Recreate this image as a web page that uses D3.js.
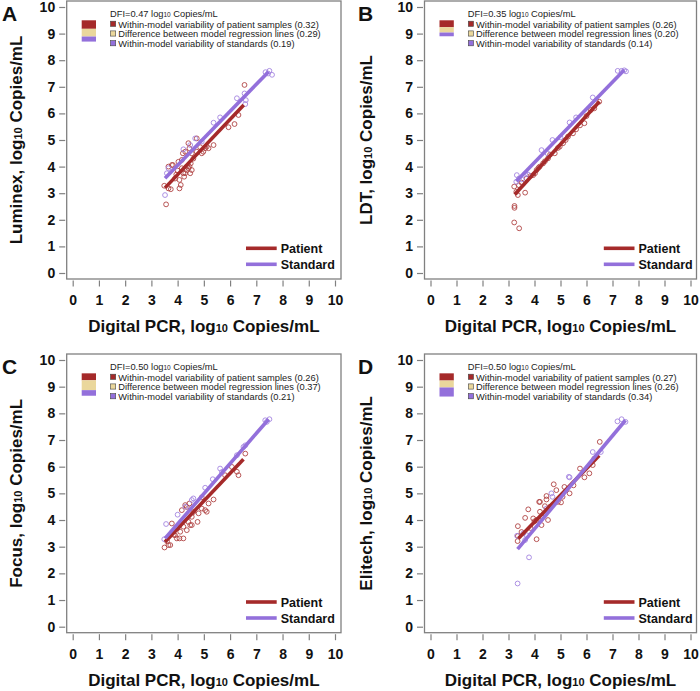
<!DOCTYPE html>
<html><head><meta charset="utf-8">
<script src="https://cdn.jsdelivr.net/npm/d3@7"></script>
<style>
body{margin:0;background:#fff}
svg{display:block}
text{font-family:"Liberation Sans",Arial,Helvetica,sans-serif}
</style>
</head><body>
<svg id="chart" width="700" height="691"></svg>
<script>
// ---------- data ----------
const panelLetters = ["A", "B", "C", "D"];
const assayNames = ["Luminex", "LDT", "Focus", "Elitech"];
const axisTicks = [0, 1, 2, 3, 4, 5, 6, 7, 8, 9, 10];
const dfiValues = ["0.47", "0.35", "0.50", "0.50"];
const patientVariability = [0.32, 0.26, 0.26, 0.27];
const regressionDifference = [0.29, 0.20, 0.37, 0.26];
const standardVariability = [0.19, 0.14, 0.21, 0.34];

// regression line endpoints [x1, y1, x2, y2]
const patientLines = [[3.52, 3.2, 6.52, 6.32], [3.24, 2.95, 6.5, 6.45], [3.52, 3.18, 6.51, 6.28], [3.38, 3.31, 6.49, 6.42]];
const standardLines = [[3.52, 3.56, 7.47, 7.57], [3.3, 3.45, 7.45, 7.63], [3.52, 3.31, 7.47, 7.78], [3.35, 2.91, 7.5, 7.74]];

const luminexPatient = [[3.56,2.58],[3.49,3.28],[3.65,3.18],[3.74,3.15],[3.65,4.0],[3.82,4.06],[4.03,4.18],[4.07,3.5],[4.07,3.18],[4.12,3.31],[4.16,3.94],[4.2,4.5],[4.29,3.75],[4.35,4.0],[4.41,4.88],[4.45,4.69],[4.48,3.75],[4.54,3.87],[4.5,4.12],[4.41,3.94],[4.73,5.06],[4.92,4.5],[4.98,4.56],[5.05,4.69],[5.11,4.75],[5.37,4.81],[6.17,5.6],[5.94,5.48],[6.55,7.07],[6.32,5.94],[4.16,4.25],[3.78,4.06],[4.22,3.75],[4.35,3.87],[4.86,4.73],[4.73,4.56],[4.54,4.5],[4.29,4.56],[5.18,4.69],[3.95,3.7],[4.25,3.62],[4.6,4.3],[4.0,3.85],[3.9,3.55],[4.45,4.0]];
const luminexStandard = [[3.52,2.93],[3.59,3.75],[3.65,3.94],[4.22,4.65],[4.48,4.81],[4.67,5.06],[4.92,4.94],[5.37,5.65],[5.62,5.85],[6.26,6.57],[6.55,6.75],[6.6,6.5],[6.58,6.35],[7.35,7.55],[7.5,7.6],[7.45,7.5],[7.6,7.45]];

const ldtPatient = [[3.22,3.25],[3.23,2.52],[3.23,2.45],[3.22,1.9],[3.41,1.68],[3.36,2.93],[3.64,3.02],[5.92,5.63],[3.95,3.68],[4.02,3.75],[6.49,6.44],[6.3,6.19],[6.17,6.13],[5.48,5.25],[5.29,5.13],[5.1,4.88],[4.97,4.75],[4.78,4.5],[4.52,4.31],[4.33,4.12],[4.08,3.87],[3.4,3.3],[3.5,3.4],[3.7,3.55],[3.85,3.65],[4.2,4.0],[4.4,4.2],[4.6,4.45],[4.9,4.7],[5.2,5.0],[5.6,5.4],[5.75,5.55],[6.0,5.9],[4.15,3.95],[3.3,3.05]];
const ldtStandard = [[7.2,7.6],[7.35,7.6],[7.45,7.62],[7.52,7.58],[6.24,6.6],[5.35,5.66],[4.69,5.0],[4.27,4.62],[3.32,3.68],[3.3,3.43],[3.51,3.52],[3.64,3.72],[3.4,3.55],[3.75,3.7],[4.5,4.5],[5.0,5.1],[5.6,5.85]];

const focusPatient = [[3.5,2.97],[3.65,3.06],[3.72,3.06],[3.78,3.87],[3.9,3.43],[3.97,3.31],[4.07,3.31],[4.22,3.31],[4.1,3.56],[4.16,4.37],[4.22,3.75],[4.35,3.62],[4.41,3.93],[4.35,4.49],[4.45,4.62],[4.54,4.12],[4.54,3.81],[4.76,3.93],[4.8,4.25],[4.92,4.43],[5.05,4.37],[5.11,4.31],[5.18,4.62],[5.37,4.77],[4.92,4.85],[5.81,5.68],[6.32,5.68],[6.26,5.81],[6.07,5.99],[6.58,6.49],[4.29,4.56],[4.0,3.7],[3.85,3.45],[4.6,4.3],[4.48,3.81],[3.6,3.2]];
const focusStandard = [[7.34,7.74],[7.5,7.78],[7.4,7.68],[6.58,6.8],[6.51,6.74],[6.26,6.43],[5.62,5.93],[5.69,5.8],[5.34,5.53],[5.05,5.21],[4.6,4.81],[4.54,4.75],[3.56,3.85],[3.49,3.28],[4.0,4.2],[4.3,4.5]];

const elitechPatient = [[3.36,3.77],[3.36,3.4],[3.64,4.08],[3.76,4.4],[3.95,4.06],[4.08,3.28],[4.21,4.31],[4.21,4.68],[4.27,3.81],[4.46,4.9],[4.46,4.77],[4.4,4.52],[4.52,4.0],[4.74,5.34],[4.84,5.12],[4.9,4.68],[5.02,4.66],[5.08,4.87],[5.15,5.24],[5.35,5.0],[5.92,5.6],[6.11,5.75],[6.51,6.93],[5.75,5.93],[6.24,6.06],[4.08,4.0],[4.18,4.68],[3.35,3.21],[3.5,3.55],[3.85,3.7],[4.0,3.95],[4.3,4.1],[4.6,4.5],[5.5,5.3],[6.3,6.3]];
const elitechStandard = [[7.19,7.7],[7.35,7.78],[7.5,7.68],[6.24,6.55],[6.55,6.55],[5.32,5.62],[4.69,4.87],[4.65,5.0],[4.46,4.43],[3.33,3.41],[3.7,3.43],[3.79,2.6],[3.35,1.62],[3.57,3.5],[3.64,3.25],[5.35,5.6]];

const patientSets = [luminexPatient, ldtPatient, focusPatient, elitechPatient];
const standardSets = [luminexStandard, ldtStandard, focusStandard, elitechStandard];

// ---------- style ----------
const patientColor = "#A52A2A";
const standardColor = "#9370DB";
const diffColor = "#EAD79C";
const pointPatient = "#B04444";
const pointStandard = "#A485E0";
const frameColor = "#808080";

const layouts = [
  {x: [72.7, 335], y: [273, 7]},
  {x: [430.5, 690.5], y: [273, 7]},
  {x: [72.7, 335], y: [626.7, 360]},
  {x: [430.5, 690.5], y: [626.7, 360]}
];
const titleOffsets = [{tx: 22, lx: 2}, {tx: 372, lx: 358}, {tx: 22, lx: 2}, {tx: 372, lx: 358}];

const svg = d3.select("#chart");

function logText(sel, pre, post, size, subSize) {
  sel.append("tspan").text(pre);
  sel.append("tspan").attr("font-size", subSize).text("10");
  sel.append("tspan").attr("font-size", size).text(post);
}

layouts.forEach((L, i) => {
  const xs = d3.scaleLinear().domain([0, 10]).range(L.x);
  const ys = d3.scaleLinear().domain([0, 10]).range(L.y);
  const g = svg.append("g");
  const pad = 6;
  const left = xs(0) - pad, right = Math.min(xs(10) + pad, 698.5), top = ys(10) - pad, bottom = ys(0) + pad;

  // frame
  g.append("rect").attr("x", left).attr("y", top).attr("width", right - left).attr("height", bottom - top)
    .attr("fill", "none").attr("stroke", frameColor).attr("stroke-width", 1.3);

  // y axis
  const yAxis = d3.axisLeft(ys).tickValues(axisTicks).tickSize(6).tickPadding(4).tickFormat(d3.format("d"));
  const ya = g.append("g").attr("transform", `translate(${left - 1.5},0)`).call(yAxis);
  ya.select(".domain").remove();
  ya.selectAll(".tick line").attr("stroke", frameColor).attr("stroke-width", 1.2);
  ya.selectAll(".tick text").attr("font-size", 14).attr("font-weight", "bold").attr("fill", "#111")
    .attr("font-family", "Liberation Sans, Arial, sans-serif");

  // x axis
  const xAxis = d3.axisBottom(xs).tickValues(axisTicks).tickSize(6).tickPadding(9).tickFormat(d3.format("d"));
  const xa = g.append("g").attr("transform", `translate(0,${bottom + 1.5})`).call(xAxis);
  xa.select(".domain").remove();
  xa.selectAll(".tick line").attr("stroke", frameColor).attr("stroke-width", 1.2);
  xa.selectAll(".tick text").attr("font-size", 14).attr("font-weight", "bold").attr("fill", "#111")
    .attr("font-family", "Liberation Sans, Arial, sans-serif");

  // titles
  const xt = g.append("text").attr("x", (xs(0) + xs(10)) / 2).attr("y", ys(0) + 59)
    .attr("text-anchor", "middle").attr("font-size", 17).attr("font-weight", "bold").attr("fill", "#111");
  logText(xt, "Digital PCR, log", " Copies/mL", 17, 11);

  const cy = (ys(0) + ys(10)) / 2;
  const yt = g.append("text").attr("transform", `translate(${titleOffsets[i].tx},${cy}) rotate(-90)`)
    .attr("text-anchor", "middle").attr("font-size", 17).attr("font-weight", "bold").attr("fill", "#111");
  logText(yt, assayNames[i] + ", log", " Copies/mL", 17, 11);

  g.append("text").attr("x", titleOffsets[i].lx).attr("y", ys(10) + 14).attr("font-size", 21)
    .attr("font-weight", "bold").attr("fill", "#111").text(panelLetters[i]);

  // points
  g.append("g").selectAll("circle").data(patientSets[i]).join("circle")
    .attr("cx", d => xs(d[0])).attr("cy", d => ys(d[1])).attr("r", 2.4)
    .attr("fill", "none").attr("stroke", pointPatient).attr("stroke-width", 0.9);
  g.append("g").selectAll("circle").data(standardSets[i]).join("circle")
    .attr("cx", d => xs(d[0])).attr("cy", d => ys(d[1])).attr("r", 2.4)
    .attr("fill", "none").attr("stroke", pointStandard).attr("stroke-width", 0.9);

  // regression lines
  const pl = patientLines[i], sl = standardLines[i];
  g.append("line").attr("x1", xs(pl[0])).attr("y1", ys(pl[1])).attr("x2", xs(pl[2])).attr("y2", ys(pl[3]))
    .attr("stroke", patientColor).attr("stroke-width", 3.6);
  g.append("line").attr("x1", xs(sl[0])).attr("y1", ys(sl[1])).attr("x2", xs(sl[2])).attr("y2", ys(sl[3]))
    .attr("stroke", standardColor).attr("stroke-width", 3.6);

  // stacked variance bar (heights in data units)
  const comps = [
    {v: patientVariability[i], c: patientColor, label: "Within-model variability of patient samples"},
    {v: regressionDifference[i], c: diffColor, label: "Difference between model regression lines"},
    {v: standardVariability[i], c: standardColor, label: "Within-model variability of standards"}
  ];
  let topVal = 9.5;
  const bx = xs(0) + 9, bw = 14.3;
  comps.forEach(cmp => {
    g.append("rect").attr("x", bx).attr("y", ys(topVal)).attr("width", bw)
      .attr("height", ys(topVal - cmp.v) - ys(topVal)).attr("fill", cmp.c);
    topVal -= cmp.v;
  });

  // legend text
  const lx = xs(0) + 37.3;
  const dt = g.append("text").attr("x", lx).attr("y", ys(10) + 9.5).attr("font-size", 9.3).attr("fill", "#222");
  logText(dt, "DFI=" + dfiValues[i] + " log", " Copies/mL", 9.3, 6.5);
  const vals = [patientVariability[i], regressionDifference[i], standardVariability[i]];
  comps.forEach((cmp, k) => {
    const by = ys(10) + 20.5 + k * 9.7;
    g.append("rect").attr("x", lx + 0.5).attr("y", by - 6.3).attr("width", 5.2).attr("height", 5.2)
      .attr("fill", cmp.c).attr("stroke", "#444").attr("stroke-width", 0.6);
    g.append("text").attr("x", lx + 8.3).attr("y", by).attr("font-size", 9.3).attr("fill", "#222")
      .text(`${cmp.label} (${vals[k].toFixed(2)})`);
  });

  // bottom-right legend
  const items = [{t: "Patient", c: patientColor, dy: -24.7}, {t: "Standard", c: standardColor, dy: -8.7}];
  items.forEach(it => {
    const yy = ys(0) + it.dy;
    g.append("line").attr("x1", xs(0) + 173.3).attr("x2", xs(0) + 204).attr("y1", yy).attr("y2", yy)
      .attr("stroke", it.c).attr("stroke-width", 3.6);
    g.append("text").attr("x", xs(0) + 208).attr("y", yy + 4.6).attr("font-size", 12.5)
      .attr("font-weight", "bold").attr("fill", "#111").text(it.t);
  });
});
</script>
</body></html>
